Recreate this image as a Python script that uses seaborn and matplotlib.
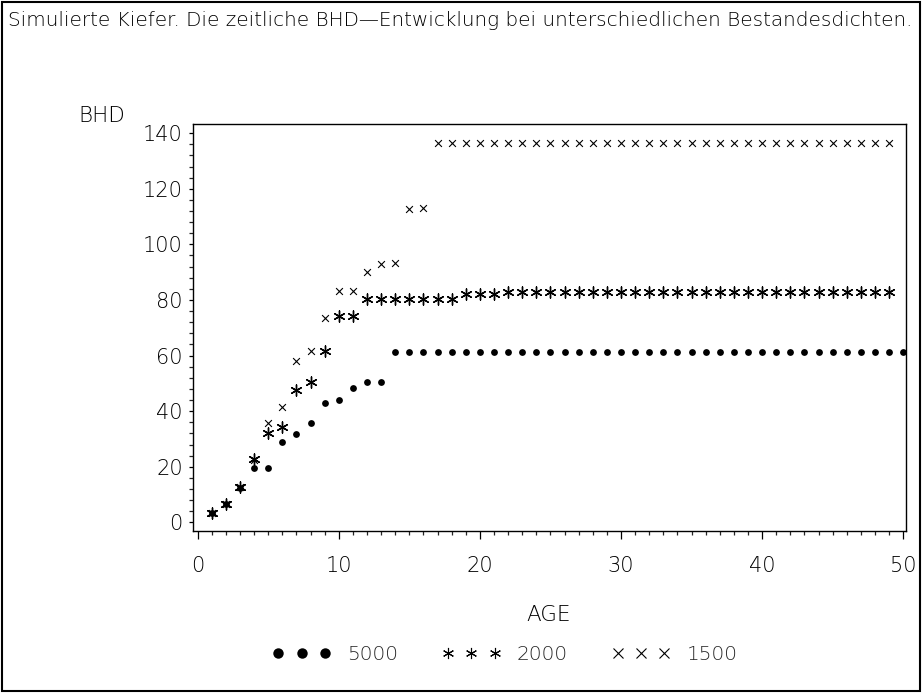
import matplotlib
matplotlib.use("Agg")
import matplotlib.pyplot as plt
from matplotlib.lines import Line2D
from matplotlib.patches import Rectangle
import seaborn as sns
import pandas as pd

# ---------------- data ----------------
age_5000 = [1, 2, 3, 4, 5, 6, 7, 8, 9, 10, 11, 12, 13, 14, 15, 16, 17, 18, 19, 20,
            21, 22, 23, 24, 25, 26, 27, 28, 29, 30, 31, 32, 33, 34, 35, 36, 37, 38,
            39, 40, 41, 42, 43, 44, 45, 46, 47, 48, 49, 50]
bhd_5000 = [3.2, 6.5, 12.4, 19.4, 19.4, 29.0, 31.9, 35.8, 43.0, 43.9, 48.3, 50.6, 50.6,
            61.4, 61.4, 61.4, 61.4, 61.4, 61.4, 61.4, 61.4, 61.4, 61.4, 61.4, 61.4,
            61.4, 61.4, 61.4, 61.4, 61.4, 61.4, 61.4, 61.4, 61.4, 61.4, 61.4, 61.4,
            61.4, 61.4, 61.4, 61.4, 61.4, 61.4, 61.4, 61.4, 61.4, 61.4, 61.4, 61.4, 61.4]

age_2000 = [1, 2, 3, 4, 5, 6, 7, 8, 9, 10, 11, 12, 13, 14, 15, 16, 17, 18, 19, 20,
            21, 22, 23, 24, 25, 26, 27, 28, 29, 30, 31, 32, 33, 34, 35, 36, 37, 38,
            39, 40, 41, 42, 43, 44, 45, 46, 47, 48, 49]
bhd_2000 = [3.4, 6.6, 12.8, 22.7, 32.2, 34.4, 47.6, 50.6, 61.7, 74.3, 74.3,
            80.3, 80.3, 80.3, 80.3, 80.3, 80.3, 80.3, 82.2, 82.2, 82.2,
            82.7, 82.7, 82.7, 82.7, 82.7, 82.7, 82.7, 82.7, 82.7, 82.7, 82.7, 82.7,
            82.7, 82.7, 82.7, 82.7, 82.7, 82.7, 82.7, 82.7, 82.7, 82.7, 82.7, 82.7,
            82.7, 82.7, 82.7, 82.7]

age_1500 = [1, 2, 3, 4, 5, 6, 7, 8, 9, 10, 11, 12, 13, 14, 15, 16, 17, 18, 19, 20,
            21, 22, 23, 24, 25, 26, 27, 28, 29, 30, 31, 32, 33, 34, 35, 36, 37, 38,
            39, 40, 41, 42, 43, 44, 45, 46, 47, 48, 49]
bhd_1500 = [3.4, 6.6, 12.8, 22.5, 35.6, 41.6, 58.1, 61.6, 73.4, 83.3, 83.3, 90.1,
            92.9, 93.2, 112.6, 113.2,
            136.5, 136.5, 136.5, 136.5, 136.5, 136.5, 136.5, 136.5, 136.5, 136.5,
            136.5, 136.5, 136.5, 136.5, 136.5, 136.5, 136.5, 136.5, 136.5, 136.5,
            136.5, 136.5, 136.5, 136.5, 136.5, 136.5, 136.5, 136.5, 136.5, 136.5,
            136.5, 136.5, 136.5]

series_labels = ["5000", "2000", "1500"]
x_ticks = [0, 10, 20, 30, 40, 50]
y_ticks = [0, 20, 40, 60, 80, 100, 120, 140]
title_text = "Simulierte Kiefer. Die zeitliche BHD\u2014Entwicklung bei unterschiedlichen Bestandesdichten."
x_label = "AGE"
y_label = "BHD"

df = pd.concat([
    pd.DataFrame({"AGE": age_5000, "BHD": bhd_5000, "density": "5000"}),
    pd.DataFrame({"AGE": age_2000, "BHD": bhd_2000, "density": "2000"}),
    pd.DataFrame({"AGE": age_1500, "BHD": bhd_1500, "density": "1500"}),
], ignore_index=True)

# ---------------- style ----------------
sns.set_theme(style="white")
plt.rcParams["font.family"] = ["DejaVu Sans"]
plt.rcParams["font.weight"] = "light"

W, H = 922, 693
fig = plt.figure(figsize=(W / 100, H / 100), dpi=100)
ax = fig.add_axes([192.7 / W, 1 - 530.7 / H, (906 - 192.7) / W, (530.7 - 124) / H])

marker_specs = {
    "5000": dict(marker="o", s=24, linewidth=0, color="black"),
    "2000": dict(marker=(6, 2, 0), s=64, linewidth=1.0, color="black"),
    "1500": dict(marker="x", s=24, linewidth=0.8, color="black"),
}
for lab in series_labels:
    sub = df[df["density"] == lab]
    sns.scatterplot(data=sub, x="AGE", y="BHD", ax=ax, legend=False, **marker_specs[lab])

ax.set_xlim(-0.35, 50.2)
ax.set_ylim(-3.0, 143.3)
ax.set_xticks(x_ticks)
ax.set_yticks(y_ticks)
ax.set_xticks(range(0, 51), minor=True)
ax.set_yticks(range(0, 141, 4), minor=True)
ax.set_xlabel("")
ax.set_ylabel("")

for sp in ax.spines.values():
    sp.set_visible(True)
    sp.set_color("black")
    sp.set_linewidth(1.0)

ax.tick_params(axis="x", which="major", direction="out", length=6, width=0.9,
               pad=12, labelsize=15, colors="black", bottom=True, top=False)
ax.tick_params(axis="x", which="minor", direction="out", length=3.2, width=0.9,
               bottom=True, top=False)
ax.tick_params(axis="y", which="major", direction="out", length=3.2, width=0.9,
               pad=4, labelsize=15, colors="black", left=True, right=False)
ax.tick_params(axis="y", which="minor", direction="out", length=2.6, width=0.9,
               left=True, right=False)
ax.grid(False)

# texts
fig.text(8 / W, 1 - 20 / H, title_text, ha="left", va="center", fontsize=14.4, color="black")
fig.text(78 / W, 1 - 116 / H, y_label, ha="left", va="center", fontsize=15.5, color="black")
fig.text(549 / W, 1 - 615 / H, x_label, ha="center", va="center", fontsize=15.5, color="black")

# legend
handles = [
    Line2D([], [], linestyle="none", marker="o", markersize=7.5, color="black", markeredgewidth=0),
    Line2D([], [], linestyle="none", marker=(6, 2, 0), markersize=8, color="black", markeredgewidth=0.8),
    Line2D([], [], linestyle="none", marker="x", markersize=6.5, color="black", markeredgewidth=0.8),
]
fig.legend(handles, series_labels, loc="center", bbox_to_anchor=(505 / W, 1 - 655 / H),
           ncol=3, frameon=False, numpoints=3, handlelength=2.9, handletextpad=0.8,
           columnspacing=2.2, fontsize=14.5, borderaxespad=0)

# outer border
fig.patches.append(Rectangle((2 / W, 2 / H), (W - 4) / W, (H - 4) / H, transform=fig.transFigure,
                             fill=False, edgecolor="black", linewidth=1.5))

fig.savefig("out.png", dpi=100)
